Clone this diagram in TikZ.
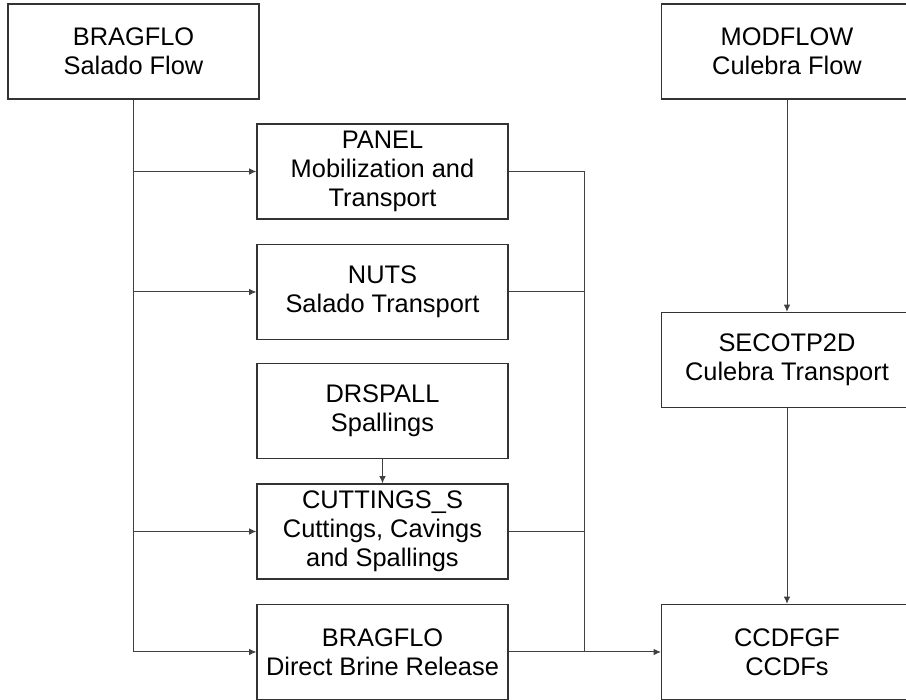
\documentclass[tikz,border=0pt]{standalone}
\usepackage{fontspec}
\setmainfont{Liberation Sans}
\usetikzlibrary{arrows.meta}

\begin{document}
\begin{tikzpicture}[x=0.5pt, y=0.5pt,
        box/.style={draw=black!80, line width=0.6pt, minimum width=125.5pt, minimum height=47.5pt,
            inner sep=0pt, align=center, font=\fontsize{12.7}{14.6}\selectfont},
        link/.style={draw=black!75, line width=0.5pt},
        arr/.style={link, -{Latex[length=3.6pt, width=3.2pt]}}]
        \useasboundingbox (0, 0) rectangle (906, 700);

        \node[box] (sflow) at (133.5, 648.5) {BRAGFLO\\Salado Flow};
        \node[box] (mflow) at (787, 648.5) {MODFLOW\\Culebra Flow};
        \node[box] (panel) at (382.5, 528.5) {PANEL\\Mobilization and\\Transport};
        \node[box] (nuts) at (382.5, 408) {NUTS\\Salado Transport};
        \node[box] (drspall) at (382.5, 289) {DRSPALL\\Spallings};
        \node[box] (cuttings) at (382.5, 168.5) {CUTTINGS\_S\\Cuttings, Cavings\\and Spallings};
        \node[box] (dbr) at (382.5, 48) {BRAGFLO\\Direct Brine Release};
        \node[box] (secotp) at (787, 340) {SECOTP2D\\Culebra Transport};
        \node[box] (ccdf) at (787, 48) {CCDFGF\\CCDFs};
        \coordinate (jn) at (584, 48);

        \draw[arr] (sflow.south) |- (panel.west);
        \draw[arr] (sflow.south) |- (nuts.west);
        \draw[arr] (sflow.south) |- (cuttings.west);
        \draw[arr] (sflow.south) |- (dbr.west);
        \draw[arr] (drspall.south) -- (cuttings.north);

        \draw[link] (panel.east) -| (jn);
        \draw[link] (nuts.east) -| (jn);
        \draw[link] (cuttings.east) -| (jn);
        \draw[arr] (dbr.east) -- (ccdf.west);

        \draw[arr] (mflow.south) -- (secotp.north);
        \draw[arr] (secotp.south) -- (ccdf.north);

    \end{tikzpicture}
\end{document}
